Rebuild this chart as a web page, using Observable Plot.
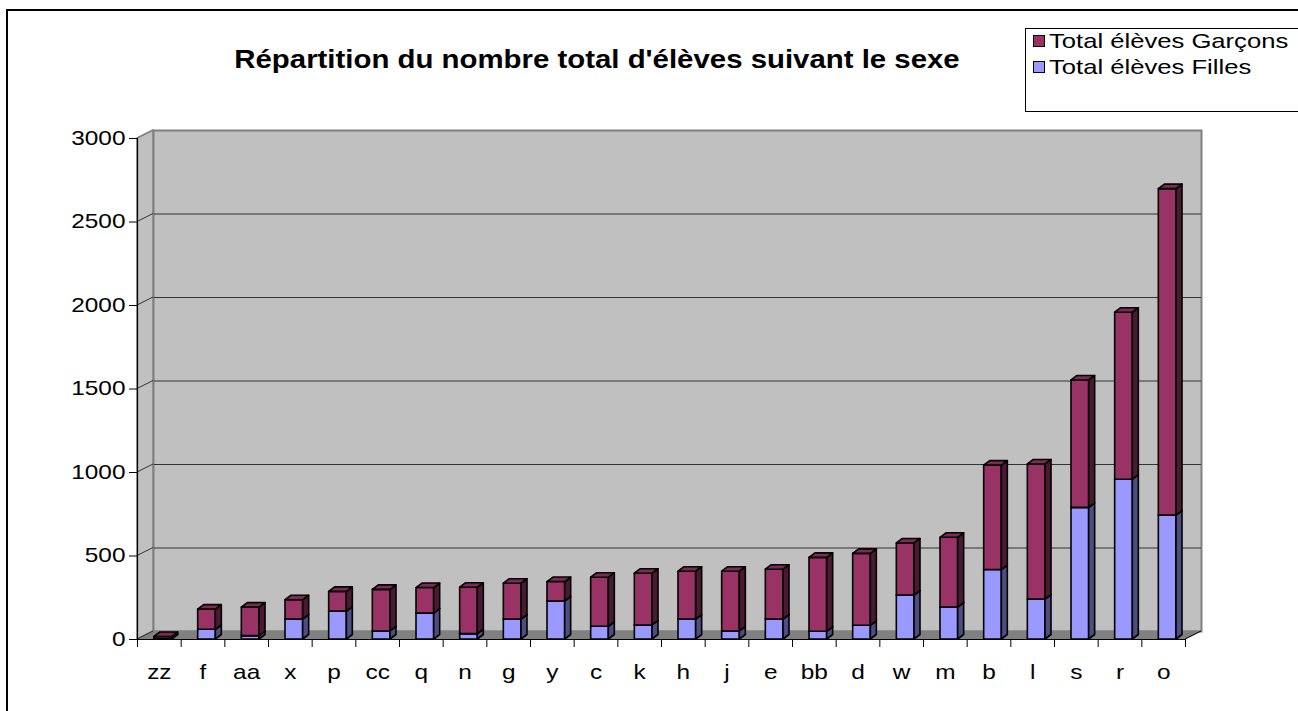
<!DOCTYPE html>
<html>
<head>
<meta charset="utf-8">
<script src="https://cdn.jsdelivr.net/npm/d3@7"></script>
<script src="https://cdn.jsdelivr.net/npm/@observablehq/plot@0.6"></script>
<style>
  body { margin: 0; background: #fff; font-family: "Liberation Sans", Arial, sans-serif; }
  #wrap { position: relative; width: 1298px; height: 711px; overflow: hidden; background: #fff; }
  #outer { position: absolute; left: 6px; top: 9px; width: 1400px; height: 900px; border: 2px solid #000; box-sizing: border-box; }
  #chart { position: absolute; left: 0; top: 0; }
  #title { position: absolute; left: 597px; top: 44px; transform: translateX(-50%) scaleX(1.13); white-space: nowrap;
           font-weight: bold; font-size: 26px; line-height: 30px; color: #000; }
  #legend { position: absolute; left: 1025px; top: 28px; width: 320px; height: 84px; border: 1px solid #000;
            background: #fff; box-sizing: border-box; }
  .item { position: absolute; left: 7px; height: 24px; display: flex; align-items: center; white-space: nowrap; }
  .sw { width: 10px; height: 10px; border: 1px solid #000; margin-right: 4px; flex: none; }
  .lt { font-size: 21px; display: inline-block; transform: scaleX(1.22); transform-origin: left center; }
</style>
</head>
<body>
<div id="wrap">
  <div id="outer"></div>
  <div id="chart"></div>
  <div id="title"></div>
  <div id="legend"></div>
</div>
<script>
// ---- data ----
const categories = ["zz","f","aa","x","p","cc","q","n","g","y","c","k","h","j","e","bb","d","w","m","b","l","s","r","o"];
const filles  = [3, 58, 20, 119, 167, 48, 155, 32, 119, 227, 76, 84, 119, 48, 119, 46, 82, 263, 191, 416, 239, 788, 957, 742];
const garcons = [12, 121, 171, 116, 118, 249, 153, 278, 215, 117, 294, 310, 287, 358, 299, 443, 431, 312, 418, 625, 809, 763, 1000, 1955];
const yTicks = [0, 500, 1000, 1500, 2000, 2500, 3000];
const seriesNames = ["Total élèves Garçons", "Total élèves Filles"];
const titleText = "Répartition du nombre total d'élèves suivant le sexe";

// ---- styles ----
const colG = {front: "#993366", side: "#4a1a32", top: "#7d2a55"};
const colF = {front: "#9999ff", side: "#4d4d80", top: "#7a7acc"};
const DEPTH_X = 16, DEPTH_Y = 8;      // wall depth
const BAR_DX = 6, BAR_DY = 4.5;       // bar depth
const INSET_L = 17, INSET_R = 9;      // bar front face within its category
const TEXT_STRETCH = 1.22;            // the reference text is horizontally stretched

const rows = categories.map((c, i) => ({i, cat: c, f: filles[i], g: garcons[i]}));

function poly(g, pts, fill, stroke, sw) {
  g.append("polygon").attr("points", pts.map(p => p.join(",")).join(" "))
    .attr("fill", fill).attr("stroke", stroke).attr("stroke-width", sw).attr("stroke-linejoin", "round");
}

function box3d(data, y1, y2, col) {
  return Plot.rectY(data, {
    x1: d => d.i, x2: d => d.i + 1, y1, y2,
    render(index, scales, values) {
      const g = d3.create("svg:g");
      for (const k of index) {
        const xl = values.x1[k] + INSET_L, xr = values.x2[k] - INSET_R;
        const yb = values.y1[k], yt = values.y2[k];
        poly(g, [[xl, yb], [xr, yb], [xr, yt], [xl, yt]], col.front, "#000", 1.6);
        poly(g, [[xr, yb], [xr + BAR_DX, yb - BAR_DY], [xr + BAR_DX, yt - BAR_DY], [xr, yt]], col.side, "#000", 1.6);
        poly(g, [[xl, yt], [xr, yt], [xr + BAR_DX, yt - BAR_DY], [xl + BAR_DX, yt - BAR_DY]], col.top, "#000", 1.6);
      }
      return g.node();
    }
  });
}

// walls, floor and depth lines drawn from the scales
function walls(index, scales) {
  const g = d3.create("svg:g");
  const x0 = scales.x(0), x1 = scales.x(categories.length);
  const y0 = scales.y(yTicks[0]), yTop = scales.y(yTicks[yTicks.length - 1]);
  poly(g, [[x0, y0], [x0, yTop], [x0 + DEPTH_X, yTop - DEPTH_Y], [x0 + DEPTH_X, y0 - DEPTH_Y]], "#c0c0c0", "#808080", 1.5);
  poly(g, [[x0, y0], [x1, y0], [x1 + DEPTH_X, y0 - DEPTH_Y], [x0 + DEPTH_X, y0 - DEPTH_Y]], "#808080", "#808080", 1);
  for (const t of yTicks) {
    const y = scales.y(t);
    g.append("line").attr("x1", x0).attr("y1", y).attr("x2", x0 + DEPTH_X).attr("y2", y - DEPTH_Y)
      .attr("stroke", t === yTicks[yTicks.length - 1] ? "#808080" : "#333").attr("stroke-width", 1);
  }
  g.append("line").attr("x1", x1).attr("y1", y0).attr("x2", x1 + DEPTH_X).attr("y2", y0 - DEPTH_Y)
    .attr("stroke", "#000").attr("stroke-width", 1);
  return g.node();
}

const plot = Plot.plot({
  width: 1298,
  height: 711,
  marginLeft: 137,
  marginRight: 113,
  marginTop: 138,
  marginBottom: 72,
  style: {fontFamily: "'Liberation Sans', Arial, sans-serif", fontSize: "20px", background: "transparent", color: "#000", overflow: "visible"},
  x: {type: "linear", domain: [0, categories.length]},
  y: {domain: [yTicks[0], yTicks[yTicks.length - 1]]},
  marks: [
    Plot.frame({fill: "#c0c0c0", stroke: "#808080", strokeWidth: 2, dx: DEPTH_X, dy: -DEPTH_Y}),
    Plot.ruleY(yTicks.slice(1, -1), {dx: DEPTH_X, dy: -DEPTH_Y, stroke: "#333", strokeWidth: 1}),
    walls,
    Plot.ruleX([0], {stroke: "#000", strokeWidth: 1.2}),
    Plot.ruleY([0], {stroke: "#000", strokeWidth: 1.2}),
    box3d(rows, 0, d => d.f, colF),
    box3d(rows, d => d.f, d => d.f + d.g, colG),
    Plot.axisY(yTicks, {tickSize: 8, tickPadding: 4, fontSize: 20, stroke: "#000", tickFormat: d => String(d), label: null}),
    Plot.axisX(d3.range(categories.length + 1), {tickSize: 8, tickFormat: () => "", stroke: "#000", label: null}),
    Plot.axisX(rows.map(d => d.i + 0.5), {tickSize: 0, tickPadding: 25, fontSize: 20, tickFormat: (v) => categories[Math.round(v - 0.5)], label: null})
  ]
});
// stretch the tick labels horizontally around their anchor, like the reference
d3.select(plot).selectAll("g[aria-label$='tick label'] text").each(function () {
  const t = this.getAttribute("transform");
  if (t) this.setAttribute("transform", t + ` scale(${TEXT_STRETCH},1)`);
});
document.getElementById("chart").appendChild(plot);

document.getElementById("title").textContent = titleText;
const legend = document.getElementById("legend");
[[seriesNames[0], colG.front, 0], [seriesNames[1], colF.front, 26]].forEach(([name, color, top]) => {
  const it = document.createElement("div");
  it.className = "item";
  it.style.top = top + "px";
  const sw = document.createElement("span");
  sw.className = "sw";
  sw.style.background = color;
  it.appendChild(sw);
  const tx = document.createElement("span");
  tx.className = "lt";
  tx.textContent = name;
  it.appendChild(tx);
  legend.appendChild(it);
});
</script>
</body>
</html>
